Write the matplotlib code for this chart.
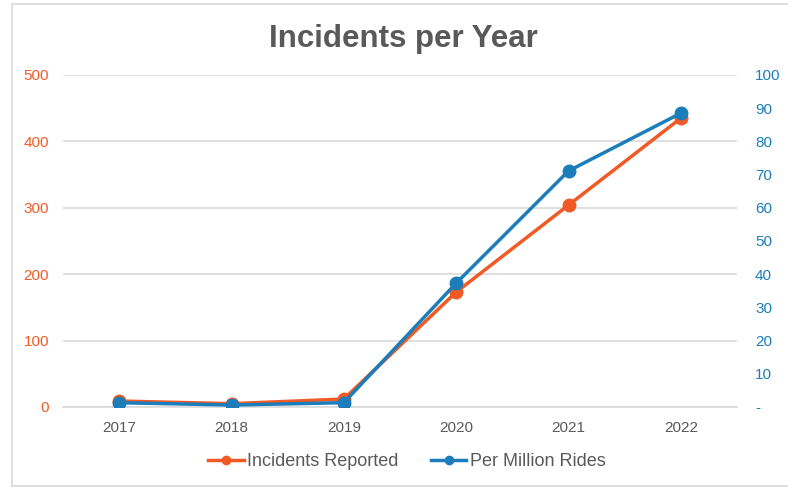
import matplotlib
matplotlib.use("Agg")
import matplotlib.pyplot as plt
from matplotlib.lines import Line2D

years = ["2017", "2018", "2019", "2020", "2021", "2022"]
incidents = [9, 5, 12, 173, 304, 435]
per_million = [1.3, 0.6, 1.3, 37.3, 71.1, 88.5]
left_ticks = [0, 100, 200, 300, 400, 500]
right_ticks = [0, 10, 20, 30, 40, 50, 60, 70, 80, 90, 100]
right_labels = ["-", "10", "20", "30", "40", "50", "60", "70", "80", "90", "100"]

orange = "#F15A24"
blue = "#1B7DB9"
grey = "#595959"
border = "#D9D9D9"

plt.rcParams["font.family"] = ["Liberation Sans", "DejaVu Sans"]

W, H = 788, 487
fig = plt.figure(figsize=(W / 100, H / 100), dpi=100)

def fx(px):
    return px / W

def fy(py):
    return 1 - py / H

# chart border (left, top, bottom)
fig.lines.append(Line2D([fx(12), fx(12)], [fy(4), fy(486)], transform=fig.transFigure,
                        color=border, linewidth=1.2))
fig.lines.append(Line2D([fx(12), 1.0], [fy(4), fy(4)], transform=fig.transFigure,
                        color=border, linewidth=1.2))
fig.lines.append(Line2D([fx(12), 1.0], [fy(486), fy(486)], transform=fig.transFigure,
                        color=border, linewidth=1.2))

left, right, top, bottom = 63, 737, 75, 407
ax = fig.add_axes([fx(left), fy(bottom), (right - left) / W, (bottom - top) / H])
ax2 = ax.twinx()

x = list(range(len(years)))
ax.plot(x, incidents, color=orange, linewidth=2.5, marker="o", markersize=9, zorder=3)
ax2.plot(x, per_million, color=blue, linewidth=2.5, marker="o", markersize=9, zorder=3)

ax.set_xlim(-0.5, len(years) - 0.5)
ax.set_ylim(0, 500)
ax2.set_ylim(0, 100)
ax.set_yticks(left_ticks)
ax.set_yticklabels([str(t) for t in left_ticks])
ax2.set_yticks(right_ticks)
ax2.set_yticklabels(right_labels)
ax.set_xticks(x)
ax.set_xticklabels(years)

ax.grid(axis="y", color=border, linewidth=1.2)
ax.set_axisbelow(True)
for a in (ax, ax2):
    for s in a.spines.values():
        s.set_visible(False)
ax.spines["bottom"].set_visible(True)
ax.spines["bottom"].set_color(border)
ax.spines["bottom"].set_linewidth(1.2)

ax.tick_params(axis="y", length=0, colors=orange, labelsize=11, pad=10)
ax2.tick_params(axis="y", length=0, colors=blue, labelsize=11, pad=13)
ax.tick_params(axis="x", length=0, colors=grey, labelsize=11, pad=10)

fig.text(fx(403.5), fy(47), "Incidents per Year", ha="center", va="baseline",
         fontsize=22.5, fontweight="bold", color=grey)

handles = [Line2D([], [], color=orange, linewidth=2.5, marker="o", markersize=6),
           Line2D([], [], color=blue, linewidth=2.5, marker="o", markersize=6)]
fig.legend(handles, ["Incidents Reported", "Per Million Rides"], loc="center",
           bbox_to_anchor=(fx(407), fy(462)), ncol=2, frameon=False,
           fontsize=13, labelcolor=grey, handlelength=1.95, handletextpad=0.2,
           columnspacing=1.8)

fig.savefig("out.png", dpi=100)
